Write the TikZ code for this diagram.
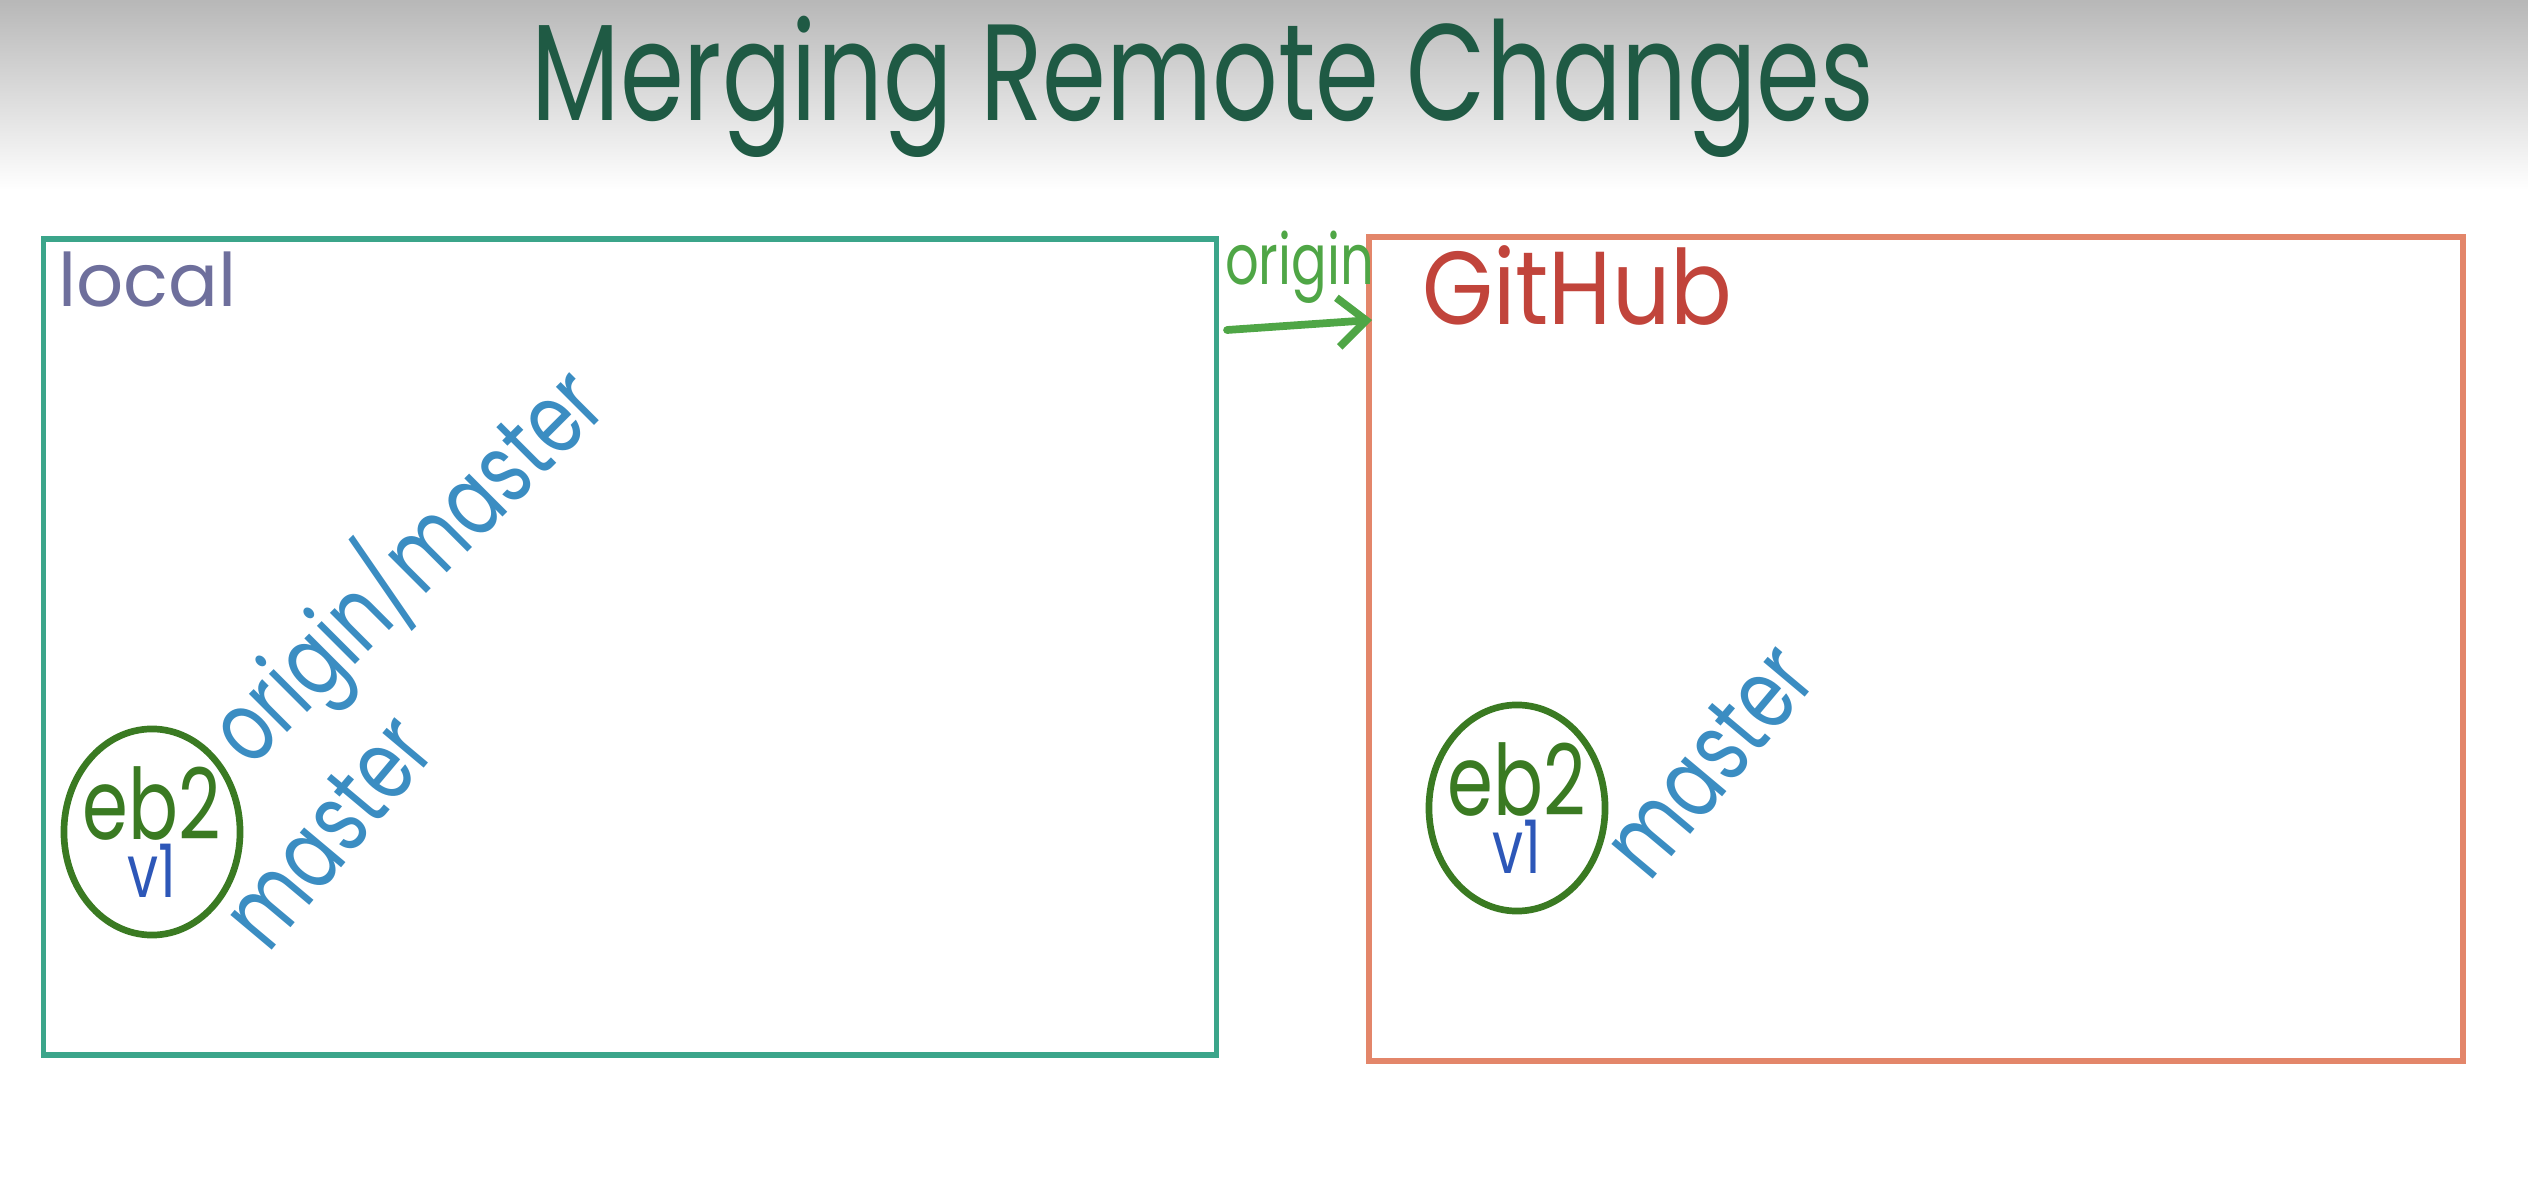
\documentclass[tikz,border=0pt]{standalone}
\usepackage{fontspec}
\setmainfont{Poppins}
\newfontfamily\handfont[FakeStretch=0.75]{Poppins}
\newfontfamily\labelfont[FakeStretch=0.88]{Poppins}
\newfontfamily\titlefont[FakeStretch=0.75]{Poppins}
\usetikzlibrary{positioning,shapes.geometric,arrows.meta}
\definecolor{titlegreen}{HTML}{1F5A44}
\definecolor{localteal}{HTML}{3BA58A}
\definecolor{hubcoral}{HTML}{E3866A}
\definecolor{localpurple}{HTML}{6E6F9C}
\definecolor{remotegreen}{HTML}{4FA646}
\definecolor{hubred}{HTML}{C1443B}
\definecolor{branchblue}{HTML}{3B8DC2}
\definecolor{commitgreen}{HTML}{3A7A22}
\definecolor{tagblue}{HTML}{2D57B8}
\begin{document}
\begin{tikzpicture}[x=0.01cm, y=-0.01cm,
        repobox/.style={draw, line width=1.6pt, inner sep=0pt},
        commit/.style={ellipse, draw=commitgreen, line width=1.9pt, minimum width=1.76cm, minimum height=2.06cm,
            align=center, inner xsep=-5pt, inner ysep=0pt, font=\handfont\fontsize{28}{14}\selectfont},
        branch/.style={text=branchblue, anchor=base west, inner sep=0pt}]
    \useasboundingbox (0,0) rectangle (2528,1180);
    \shade[top color=black!28, bottom color=white] (0,0) rectangle (2528,190);
    \node[anchor=base, text=titlegreen, font=\titlefont\fontsize{39}{40}\selectfont] (title) at (1203,121) {Merging Remote Changes};

    \node[repobox, draw=localteal, minimum width=11.72cm, minimum height=8.15cm] (localbox) at (630,647) {};
    \node[repobox, draw=hubcoral, minimum width=10.93cm, minimum height=8.24cm] (hubbox) at (1916,649) {};
    \node[below right=0.15cm and 0.17cm of localbox.north west, inner sep=0pt, text=localpurple,
        font=\fontsize{21}{24}\selectfont] (localname) {local};
    \node[below right=0.11cm and 0.55cm of hubbox.north west, inner sep=0pt, text=hubred,
        font=\labelfont\fontsize{29.5}{32}\selectfont] (hubname) {GitHub};

    \coordinate (pushfrom) at (1227,330);
    \coordinate (pushto) at (1372,320);
    \draw[remotegreen, line width=2.2pt, line cap=round, -{Straight Barb[length=8pt,width=14pt]}] (pushfrom) -- (pushto)
        node[midway, above=5pt, inner sep=0pt, font=\handfont\fontsize{20}{20}\selectfont] (remotename) {origin};

    \node[commit] (localcommit) at (152,832) {{\color{commitgreen}eb2}\\{\color{tagblue}\fontsize{21}{14}\selectfont v1}};
    \node[branch, rotate=45, font=\handfont\fontsize{28}{28}\selectfont] (trackbranch) at (250,770) {origin/master};
    \node[branch, rotate=50, font=\handfont\fontsize{28}{28}\selectfont] (localbranch) at (268,955) {master};

    \node[commit] (hubcommit) at (1517,808) {{\color{commitgreen}eb2}\\{\color{tagblue}\fontsize{21}{14}\selectfont v1}};
    \node[branch, rotate=50, font=\handfont\fontsize{28}{28}\selectfont] (hubbranch) at (1649,884) {master};
\end{tikzpicture}
\end{document}
